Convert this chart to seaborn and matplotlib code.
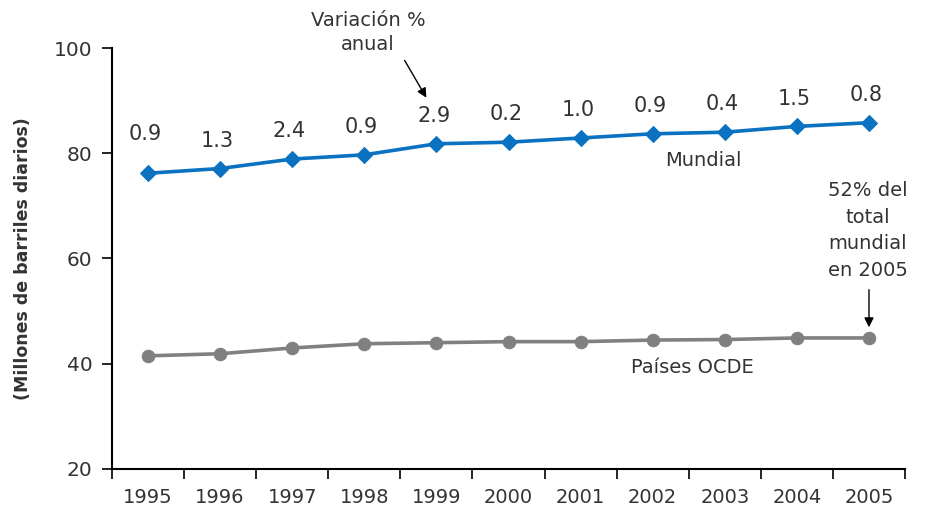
import matplotlib
matplotlib.use("Agg")
import matplotlib.pyplot as plt
import seaborn as sns
import pandas as pd
import numpy as np

years = [1995, 1996, 1997, 1998, 1999, 2000, 2001, 2002, 2003, 2004, 2005]
mundial = [76.2, 77.1, 78.9, 79.7, 81.8, 82.1, 82.9, 83.7, 84.0, 85.1, 85.8]
ocde = [41.5, 41.9, 43.0, 43.8, 44.0, 44.2, 44.2, 44.5, 44.6, 44.9, 44.9]
variacion = ["0.9", "1.3", "2.4", "0.9", "2.9", "0.2", "1.0", "0.9", "0.4", "1.5", "0.8"]

sns.set_theme(style="white")
plt.rcParams['font.family'] = ['DejaVu Sans']

txt = "#333333"
blue = "#0A72C0"
gray = "#808080"

df = pd.DataFrame({"year": years, "Mundial": mundial, "OCDE": ocde})

fig = plt.figure(figsize=(9.27, 5.08), dpi=100)
ax = fig.add_axes([0.1208, 0.0768, 0.8555, 0.8287])

sns.lineplot(data=df, x="year", y="Mundial", ax=ax, color=blue, lw=2.6,
             marker="D", markersize=8, markeredgecolor=blue)
sns.lineplot(data=df, x="year", y="OCDE", ax=ax, color=gray, lw=2.6,
             marker="o", markersize=9, markeredgecolor=gray)

ax.set_xlim(1994.5, 2005.5)
ax.set_ylim(20, 100)
ax.set_yticks([20, 40, 60, 80, 100])
ax.set_xticks(np.arange(1994.5, 2006, 1.0))
ax.set_xticklabels([])
ax.set_xticks(years, minor=True)
ax.set_xticklabels([str(y) for y in years], minor=True)
ax.tick_params(axis="x", which="major", direction="out", length=7, width=1.2, color="black", bottom=True)
ax.tick_params(axis="x", which="minor", length=0, pad=14, labelsize=14, labelcolor=txt)
ax.tick_params(axis="y", direction="out", length=7, width=1.2, color="black", left=True,
               labelsize=14.5, labelcolor=txt, pad=7)

for s in ["top", "right"]:
    ax.spines[s].set_visible(False)
for s in ["left", "bottom"]:
    ax.spines[s].set_color("black")
    ax.spines[s].set_linewidth(1.5)

ax.set_xlabel("")
ax.set_ylabel("(Millones de barriles diarios)", fontsize=12.5, fontweight="bold", color=txt, labelpad=16)

for i, (y, v, lab) in enumerate(zip(years, mundial, variacion)):
    off = 28 if i == 0 else 20
    ax.annotate(lab, (y, v), xytext=(-2, off), textcoords="offset points",
                ha="center", va="center", fontsize=15, color=txt)

ax.text(2002.7, 78.7, "Mundial", fontsize=14, color=txt, ha="center", va="center")
ax.text(2002.55, 39.2, "Países OCDE", fontsize=14, color=txt, ha="center", va="center")

ax.annotate("", xy=(1998.88, 90.1), xytext=(1998.54, 98.1),
            arrowprops=dict(arrowstyle="-|>", color="black", lw=1.0, mutation_scale=14))
fig.text(368 / 927, 1 - 20 / 508, "Variación %", fontsize=14, color=txt, ha="center", va="center")
fig.text(368 / 927, 1 - 45 / 508, "anual", fontsize=14, color=txt, ha="center", va="center")

ax.annotate("", xy=(2005, 46.4), xytext=(2005, 54.6),
            arrowprops=dict(arrowstyle="-|>", color="black", lw=1.0, mutation_scale=14))
ax.text(2004.98, 65.3, "52% del\ntotal\nmundial\nen 2005", fontsize=14, color=txt,
        ha="center", va="center", linespacing=1.5)

fig.savefig("out.png", dpi=100)
